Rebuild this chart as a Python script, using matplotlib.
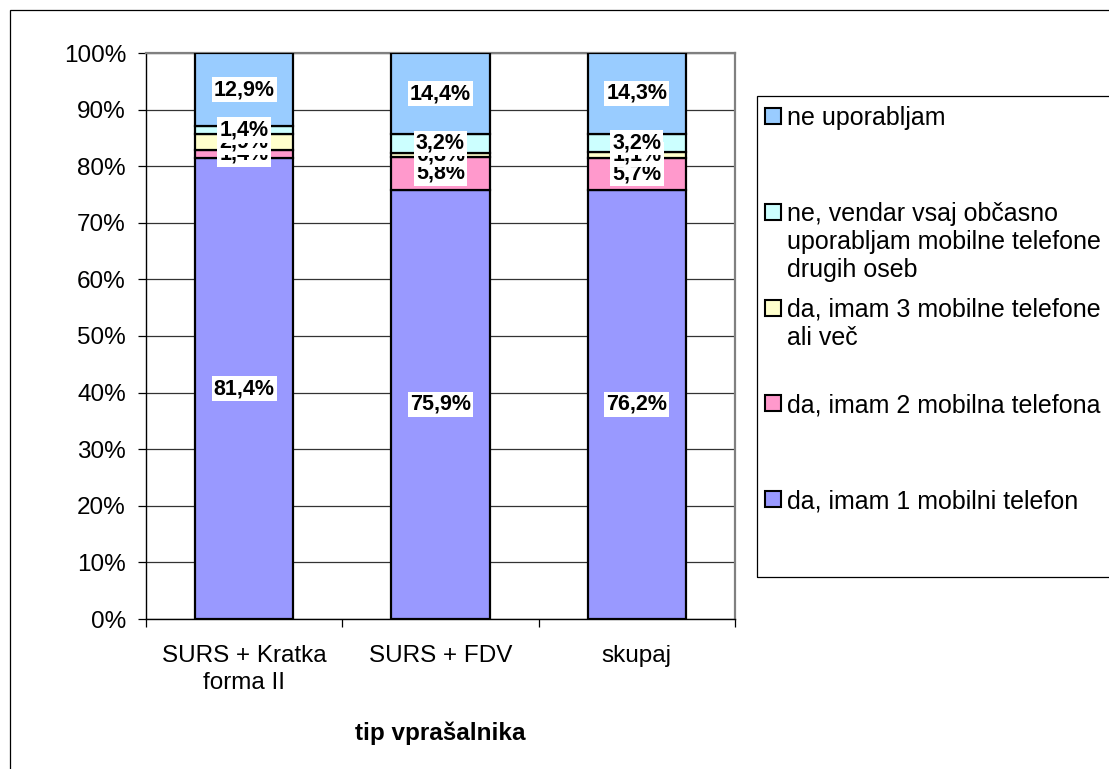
import matplotlib
matplotlib.use("Agg")
import matplotlib.pyplot as plt
from matplotlib.patches import Rectangle
import numpy as np

categories = ["SURS + Kratka\nforma II", "SURS + FDV", "skupaj"]
series_names = [
    "da, imam 1 mobilni telefon",
    "da, imam 2 mobilna telefona",
    "da, imam 3 mobilne telefone\nali več",
    "ne, vendar vsaj občasno\nuporabljam mobilne telefone\ndrugih oseb",
    "ne uporabljam",
]
one_phone = [81.4, 75.9, 76.2]
two_phones = [1.4, 5.8, 5.7]
three_plus = [2.9, 0.8, 1.1]
others_phones = [1.4, 3.2, 3.2]
not_using = [12.9, 14.4, 14.3]
colors = ["#9999FF", "#FF99CC", "#FFFFCC", "#CCFFFF", "#99CCFF"]
yticks = [0, 10, 20, 30, 40, 50, 60, 70, 80, 90, 100]

plt.rcParams['font.family'] = ['Liberation Sans', 'DejaVu Sans']

W, H = 1109, 769
fig = plt.figure(figsize=(W / 100, H / 100), dpi=100)
ax = fig.add_axes([146 / W, 1 - 619 / H, (735 - 146) / W, (619 - 53) / H])

data = np.array([one_phone, two_phones, three_plus, others_phones, not_using])
totals = data.sum(axis=0)
frac = data / totals

x = np.arange(len(categories))
bottom = np.zeros(len(categories))
for i, (vals, col) in enumerate(zip(frac, colors)):
    ax.bar(x, vals, 0.5, bottom=bottom, color=col, edgecolor="black",
           linewidth=1.6, zorder=3)
    for j in range(len(x)):
        ax.text(x[j], bottom[j] + vals[j] / 2,
                f"{data[i][j]:.1f}%".replace(".", ","),
                ha="center", va="center", fontsize=15.5, fontweight="bold",
                zorder=10 + i,
                bbox=dict(boxstyle="square,pad=0.1", fc="white", ec="none"))
    bottom += vals

ax.set_xlim(-0.5, 2.5)
ax.set_ylim(0, 1)
ax.set_yticks([t / 100 for t in yticks])
ax.set_yticklabels([f"{t}%" for t in yticks], fontsize=17.5)
ax.yaxis.grid(True, color="#333333", linewidth=0.9, zorder=0)
ax.set_axisbelow(True)

ax.set_xticks([-0.5, 0.5, 1.5, 2.5])
ax.set_xticklabels([])
ax.set_xticks(x, minor=True)
ax.set_xticklabels(categories, minor=True, fontsize=17.5, linespacing=1.3)
ax.tick_params(axis="x", which="minor", length=0, pad=19)
ax.tick_params(axis="x", which="major", length=5.5, width=0.9, direction="out")
ax.tick_params(axis="y", length=5.8, width=0.9, pad=8.6, direction="out")

for s in ["top", "right"]:
    ax.spines[s].set_color("#808080")
    ax.spines[s].set_linewidth(1.6)
for s in ["left", "bottom"]:
    ax.spines[s].set_color("black")
    ax.spines[s].set_linewidth(1.0)

fig.text(440 / W, 1 - 740 / H, "tip vprašalnika", ha="center", va="baseline",
         fontsize=17.5, fontweight="bold")

# outer chart border
fig.patches.append(Rectangle((10 / W, -0.1), 1.2, 1 - 10 / H + 0.1,
                             transform=fig.transFigure, fill=False,
                             ec="black", lw=0.9))

# legend box
fig.patches.append(Rectangle((757 / W, 1 - 577 / H), (1120 - 757) / W,
                             (577 - 96) / H, transform=fig.transFigure,
                             fill=False, ec="black", lw=0.9))
legend_baselines = [125, 221, 317, 412, 508]
legend_order = [4, 3, 2, 1, 0]
line_step = 28
for base, idx in zip(legend_baselines, legend_order):
    fig.patches.append(Rectangle((765 / W, 1 - (base - 1) / H), 16 / W, 16 / H,
                                 transform=fig.transFigure, fc=colors[idx],
                                 ec="black", lw=1.5, zorder=5))
    for k, line in enumerate(series_names[idx].split("\n")):
        fig.text(787 / W, 1 - (base + k * line_step) / H, line,
                 ha="left", va="baseline", fontsize=18)

fig.savefig("out.png", dpi=100)
